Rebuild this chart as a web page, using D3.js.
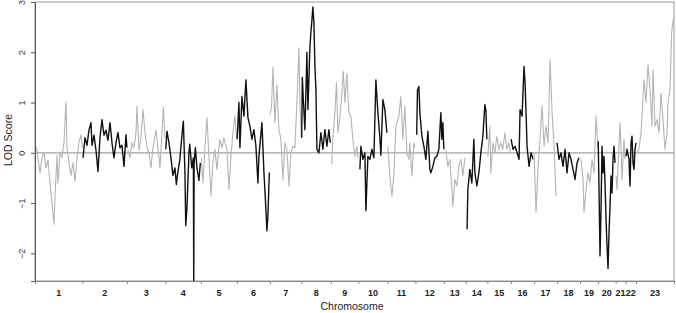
<!DOCTYPE html>
<html>
<head>
<meta charset="utf-8">
<script src="https://cdn.jsdelivr.net/npm/d3@7"></script>
<style>
  html, body { margin: 0; padding: 0; background: #fff; }
  svg { display: block; font-family: "Liberation Sans", Arial, sans-serif; }
</style>
</head>
<body>
<svg id="chart" width="676" height="313"></svg>
<script>
// ---- data ----
const chromosomes = ["1","2","3","4","5","6","7","8","9","10","11","12","13","14","15","16","17","18","19","20","21","22","23"];
const chrLengths = [238,222,192,178,180,165,158,147,138,145,140,142,110,108,118,115,115,115,90,88,50,52,190];
const yTicks = [-2,-1,0,1,2,3];

// LOD scan per chromosome: [position within chromosome (cM), LOD score]
const chr1 = [[0,0.15],[10,0.05],[20,-0.25],[25,-0.4],[35,-0.1],[45,0.0],[55,-0.3],[65,-0.15],[75,-0.6],[85,-1.0],[95,-1.42],[100,-0.9],[110,-0.05],[115,-0.6],[125,0.0],[135,-0.1],[145,0.2],[155,1.02],[160,0.1],[170,-0.2],[180,-0.45],[190,-0.2],[200,-0.57],[210,-0.1],[220,0.2],[230,0.36],[237,0.1]];
const chr2 = [[2,-0.1],[12,0.3],[22,0.15],[32,0.45],[42,0.6],[47,0.15],[57,0.35],[67,0.05],[77,-0.37],[87,0.3],[97,0.66],[107,0.35],[117,0.45],[127,0.25],[137,0.6],[147,0.2],[157,-0.1],[167,0.2],[177,0.4],[187,0.1],[197,0.15],[207,-0.27],[217,0.36],[222,0.1]];
const chr3 = [[5,0.05],[15,-0.1],[25,0.2],[35,0.1],[45,0.4],[50,0.93],[60,0.05],[70,0.3],[80,0.86],[90,0.4],[100,0.1],[110,0.0],[120,-0.3],[130,0.1],[145,0.45],[155,0.1],[165,-0.3],[175,0.4],[182,0.9],[190,0.3]];
const chr4 = [[2,0.07],[8,0.43],[18,0.2],[28,-0.1],[38,-0.45],[48,-0.3],[55,-0.63],[62,-0.4],[72,-0.15],[82,0.3],[90,0.63],[98,-0.4],[102,-1.45],[108,-1.1],[118,0.0],[122,0.17],[132,-0.3],[140,-0.1],[142,-2.6],[144,-0.2],[150,0.1],[158,-0.3],[168,-0.55],[175,-0.2]];
const chr5 = [[2,-0.1],[10,-0.6],[20,0.1],[30,0.7],[40,-0.1],[50,-0.86],[60,-0.2],[70,0.07],[80,-0.33],[90,0.1],[95,0.27],[105,0.1],[115,0.3],[120,0.2],[130,0.07],[140,-0.73],[150,-0.07],[160,0.4],[170,0.73],[178,0.3]];
const chr6 = [[1,0.27],[10,1.0],[15,0.1],[25,1.12],[35,0.73],[45,1.45],[55,0.7],[65,0.53],[75,0.27],[85,0.46],[95,0.13],[105,-0.6],[110,-0.07],[125,0.6],[135,-0.39],[142,-0.9],[150,-1.55],[155,-1.25],[162,-0.39]];
const chr7 = [[0,0.76],[8,0.9],[15,1.7],[25,0.6],[35,1.35],[45,0.46],[55,0.27],[65,-0.53],[75,0.2],[85,0.07],[95,-0.66],[105,0.0],[115,0.13],[125,0.1],[135,1.0],[145,2.09],[150,1.0],[157,0.3]];
const chr8 = [[1,0.3],[4,1.5],[9,1.06],[17,0.46],[27,2.0],[32,0.86],[42,2.1],[47,2.4],[52,2.64],[57,2.9],[62,2.58],[67,1.72],[72,1.26],[77,0.07],[87,0.0],[97,0.4],[107,0.07],[117,0.46],[127,0.13],[137,0.46],[144,0.2]];
const chr9 = [[4,-0.23],[10,0.3],[20,0.8],[28,1.4],[35,0.4],[45,0.72],[55,1.2],[62,1.62],[70,1.0],[80,1.58],[90,0.8],[100,0.72],[110,0.26],[120,-0.07],[130,0.13],[135,-0.1]];
const chr10 = [[7,-0.33],[12,0.13],[22,-0.13],[32,0.0],[37,-1.15],[47,-0.07],[57,-0.13],[67,0.07],[77,-0.1],[87,1.45],[97,0.8],[107,0.3],[112,-0.05],[122,1.06],[132,0.86],[142,0.4]];
const chr11 = [[2,0.13],[12,-0.47],[22,-0.86],[32,-0.43],[42,0.53],[57,0.73],[67,1.12],[77,0.27],[87,0.93],[97,0.0],[107,-0.13],[112,0.2],[122,-0.46],[132,0.2],[137,0.1]];
const chr12 = [[6,0.36],[10,1.25],[17,1.32],[22,0.8],[32,0.33],[42,0.13],[52,-0.13],[62,0.43],[72,-0.33],[77,-0.4],[87,-0.27],[97,-0.1],[107,-0.07],[117,0.07],[127,0.8],[132,0.27],[137,0.6],[142,0.07]];
const chr13 = [[10,0.07],[20,-0.27],[30,-0.13],[40,-0.73],[45,-1.06],[55,-0.53],[65,-0.66],[75,-0.27],[85,-0.13],[95,-0.46],[105,-0.1]];
const chr14 = [[6,-1.52],[10,-0.73],[20,-0.33],[30,-0.6],[40,0.27],[45,-0.4],[55,-0.66],[65,-0.4],[75,0.0],[85,0.33],[95,0.96],[100,0.86],[105,0.27]];
const chr15 = [[2,-0.07],[12,0.53],[17,-0.4],[27,0.2],[37,0.0],[47,0.33],[57,0.07],[67,0.2],[77,0.07],[87,0.4],[97,0.07],[107,0.2],[115,0.0]];
const chr16 = [[0,0.27],[10,0.07],[20,0.13],[30,0.0],[40,-0.13],[45,0.86],[55,0.73],[65,1.72],[70,1.4],[75,0.8],[80,0.13],[90,-0.27],[100,0.0],[110,-0.13]];
const chr17 = [[0,0.0],[5,-0.6],[10,-1.18],[20,-0.27],[30,0.27],[40,0.93],[50,0.13],[60,0.53],[70,0.2],[80,1.85],[90,0.8],[100,0.13],[110,-0.86]];
const chr18 = [[0,0.2],[10,-0.13],[20,0.0],[30,-0.27],[40,0.07],[50,-0.4],[60,0.0],[70,-0.13],[80,-0.33],[90,-0.53],[100,-0.2],[110,-0.1]];
const chr19 = [[5,-0.13],[15,-0.53],[20,-1.18],[30,-0.73],[40,-0.4],[50,-0.6],[60,-0.13],[70,-0.4],[80,0.73],[85,0.4],[90,0.07]];
const chr20 = [[1,0.23],[5,-0.73],[10,-2.05],[15,-1.12],[20,0.13],[25,-0.4],[30,-0.07],[35,-0.6],[40,-1.32],[45,-1.85],[50,-2.3],[55,-1.58],[60,-1.06],[65,-0.46],[70,-0.8],[75,-0.13],[80,0.13],[85,-0.2]];
const chr21 = [[2,-0.46],[7,-0.73],[12,-0.27],[22,0.6],[27,0.13],[32,-0.53],[42,0.27],[47,-0.13]];
const chr22 = [[2,-0.07],[7,0.07],[17,-0.13],[22,-0.66],[27,0.2],[32,0.33],[37,-0.2],[42,-0.33],[47,0.07],[52,0.2]];
const chr23 = [[5,0.0],[15,0.07],[25,0.4],[35,1.06],[40,1.45],[50,1.0],[60,1.75],[70,1.25],[80,0.53],[85,1.65],[95,0.53],[105,0.66],[115,0.4],[125,1.19],[135,0.66],[145,0.07],[155,0.4],[160,1.0],[170,1.25],[178,2.38],[185,2.64],[190,2.7]];
const lodScans = [chr1,chr2,chr3,chr4,chr5,chr6,chr7,chr8,chr9,chr10,chr11,chr12,chr13,chr14,chr15,chr16,chr17,chr18,chr19,chr20,chr21,chr22,chr23];

// ---- layout ----
const svg = d3.select("#chart");
const mLeft = 35, mRight = 674, mTop = 2, mBottom = 281;

const offsets = [];
let acc = 0;
chrLengths.forEach(l => { offsets.push(acc); acc += l; });
const total = acc;

const x = d3.scaleLinear().domain([0, total]).range([mLeft, mRight]);
const y = d3.scaleLinear().domain([-2.55, 3.0]).range([mBottom, mTop]);

svg.append("defs").append("clipPath").attr("id", "clip")
  .append("rect").attr("x", mLeft).attr("y", mTop).attr("width", mRight - mLeft).attr("height", mBottom - mTop);

// frame (top/right)
svg.append("rect").attr("x", mLeft).attr("y", mTop).attr("width", mRight - mLeft).attr("height", mBottom - mTop)
  .attr("fill", "none").attr("stroke", "#9a9a9a").attr("stroke-width", 1);

// zero line
svg.append("line").attr("x1", mLeft).attr("x2", mRight).attr("y1", y(0)).attr("y2", y(0))
  .attr("stroke", "#a0a0a0").attr("stroke-width", 1.2);

// LOD curves
const line = d3.line().x(d => d[0]).y(d => d[1]);
const g = svg.append("g").attr("clip-path", "url(#clip)");
lodScans.forEach((scan, i) => {
  const pts = scan.map(d => [x(offsets[i] + d[0]), y(d[1])]);
  g.append("path").attr("d", line(pts)).attr("fill", "none")
    .attr("stroke", i % 2 === 0 ? "#b4b4b4" : "#111")
    .attr("stroke-width", i % 2 === 0 ? 1.1 : 1.4)
    .attr("stroke-linejoin", "round");
});

// y axis
const yAxis = d3.axisLeft(y).tickValues(yTicks).tickSize(4).tickFormat(d3.format("d"));
const ya = svg.append("g").attr("transform", `translate(${mLeft},0)`).call(yAxis);
ya.select(".domain").attr("stroke", "#555");
ya.selectAll(".tick line").attr("stroke", "#555");
ya.selectAll(".tick text")
  .attr("x", 0).attr("y", 0).attr("dy", null)
  .attr("transform", "translate(-10,0) rotate(-90)")
  .attr("text-anchor", "middle")
  .attr("font-size", 9).attr("fill", "#333")
  .attr("font-family", "Liberation Sans, Arial, sans-serif");

// x axis: boundaries as ticks, labels centered
const boundaries = offsets.concat([total]);
const xAxis = d3.axisBottom(x).tickValues(boundaries).tickSize(3).tickFormat("");
const xa = svg.append("g").attr("transform", `translate(0,${mBottom})`).call(xAxis);
xa.select(".domain").attr("stroke", "#888");
xa.selectAll(".tick line").attr("stroke", "#888");

svg.append("g").selectAll("text").data(chromosomes).join("text")
  .attr("x", (d, i) => x(offsets[i] + chrLengths[i] / 2))
  .attr("y", 296)
  .attr("text-anchor", "middle")
  .attr("font-size", 9).attr("font-weight", "bold").attr("fill", "#222")
  .text(d => d);

svg.append("text").attr("x", 352).attr("y", 310).attr("text-anchor", "middle")
  .attr("font-size", 10.5).attr("fill", "#222").text("Chromosome");

svg.append("text").attr("transform", "translate(12,140) rotate(-90)").attr("text-anchor", "middle")
  .attr("font-size", 10.5).attr("fill", "#222").text("LOD Score");
</script>
</body>
</html>
